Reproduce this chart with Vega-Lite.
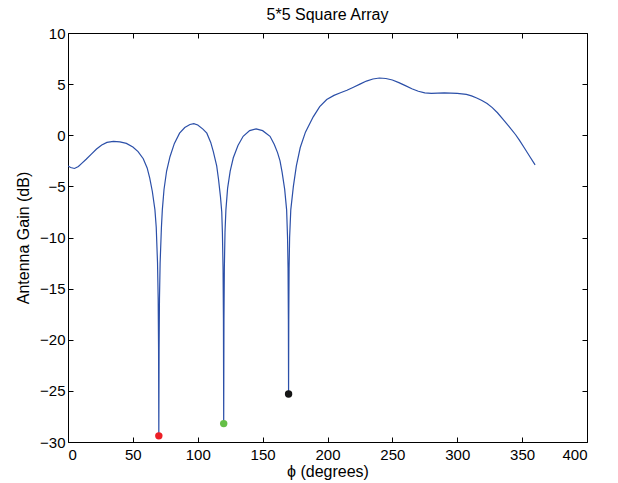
{
  "$schema": "https://vega.github.io/schema/vega-lite/v6.json",
  "width": 519,
  "height": 409,
  "autosize": {"type": "none"},
  "padding": {"left": 68, "top": 33, "right": 31, "bottom": 41},
  "background": "white",
  "config": {
    "font": "Liberation Sans",
    "view": {"stroke": "#000000", "strokeWidth": 1},
    "title": {"fontSize": 16, "fontWeight": "normal", "color": "#000000", "font": "Liberation Sans"},
    "axis": {
      "domain": false,
      "grid": false,
      "ticks": true,
      "tickSize": -5,
      "tickColor": "#000000",
      "tickWidth": 1,
      "labelFont": "Liberation Sans",
      "labelFontSize": 15,
      "labelColor": "#000000",
      "titleFont": "Liberation Sans",
      "titleFontSize": 16,
      "titleFontWeight": "normal",
      "titleColor": "#000000"
    }
  },
  "title": {"text": "5*5 Square Array", "offset": 3, "anchor": "middle", "frame": "group", "fontSize": 16},
  "datasets": {
    "curve": [
      {"phi": 0, "gain": -3.0}, {"phi": 2, "gain": -3.15}, {"phi": 5, "gain": -3.25}, {"phi": 8, "gain": -3.05},
      {"phi": 11, "gain": -2.7}, {"phi": 14, "gain": -2.35}, {"phi": 18, "gain": -1.85}, {"phi": 22, "gain": -1.35},
      {"phi": 26, "gain": -0.95}, {"phi": 30, "gain": -0.7}, {"phi": 35, "gain": -0.6}, {"phi": 40, "gain": -0.65},
      {"phi": 45, "gain": -0.8}, {"phi": 50, "gain": -1.15}, {"phi": 54, "gain": -1.6}, {"phi": 58, "gain": -2.3},
      {"phi": 61, "gain": -3.2}, {"phi": 63, "gain": -4.2}, {"phi": 65, "gain": -5.5}, {"phi": 67, "gain": -7.3},
      {"phi": 68, "gain": -9.0}, {"phi": 69, "gain": -12.5}, {"phi": 69.5, "gain": -16}, {"phi": 69.8, "gain": -21},
      {"phi": 70, "gain": -29.4},
      {"phi": 70.2, "gain": -21}, {"phi": 70.5, "gain": -16}, {"phi": 71, "gain": -12.5}, {"phi": 72, "gain": -9.0},
      {"phi": 72.7, "gain": -7.3}, {"phi": 74, "gain": -5.3}, {"phi": 76, "gain": -3.5}, {"phi": 78.6, "gain": -2.1},
      {"phi": 82, "gain": -0.8}, {"phi": 86, "gain": 0.2}, {"phi": 90, "gain": 0.75}, {"phi": 94, "gain": 1.05},
      {"phi": 97, "gain": 1.13}, {"phi": 100, "gain": 1.0}, {"phi": 104, "gain": 0.6}, {"phi": 107, "gain": 0.2},
      {"phi": 110, "gain": -0.7}, {"phi": 112, "gain": -1.6}, {"phi": 114.6, "gain": -3.0}, {"phi": 116, "gain": -4.3},
      {"phi": 117.5, "gain": -6.0}, {"phi": 118.5, "gain": -7.5}, {"phi": 119, "gain": -9.5}, {"phi": 119.5, "gain": -13},
      {"phi": 119.8, "gain": -18}, {"phi": 120, "gain": -28.2}, {"phi": 120.2, "gain": -18}, {"phi": 120.5, "gain": -13},
      {"phi": 121, "gain": -9.5}, {"phi": 121.7, "gain": -7.3}, {"phi": 123, "gain": -5.2}, {"phi": 125, "gain": -3.5},
      {"phi": 127.4, "gain": -2.2}, {"phi": 131, "gain": -1.0}, {"phi": 135, "gain": -0.1}, {"phi": 140, "gain": 0.45},
      {"phi": 145, "gain": 0.62}, {"phi": 150, "gain": 0.45}, {"phi": 155.7, "gain": -0.1}, {"phi": 159, "gain": -0.9},
      {"phi": 161.5, "gain": -1.7}, {"phi": 163.4, "gain": -2.5}, {"phi": 165, "gain": -3.6}, {"phi": 167, "gain": -5.3},
      {"phi": 168.5, "gain": -7.3}, {"phi": 169.2, "gain": -10}, {"phi": 169.6, "gain": -13}, {"phi": 169.85, "gain": -18},
      {"phi": 170, "gain": -25.3}, {"phi": 170.15, "gain": -18}, {"phi": 170.4, "gain": -13}, {"phi": 170.8, "gain": -10},
      {"phi": 171.7, "gain": -7.3}, {"phi": 173.7, "gain": -5.0}, {"phi": 176, "gain": -3.0}, {"phi": 179, "gain": -1.2},
      {"phi": 183, "gain": 0.3}, {"phi": 189, "gain": 1.8}, {"phi": 194, "gain": 2.8}, {"phi": 199.4, "gain": 3.5},
      {"phi": 205, "gain": 3.9}, {"phi": 210, "gain": 4.15}, {"phi": 215, "gain": 4.4}, {"phi": 220, "gain": 4.7},
      {"phi": 225, "gain": 5.0}, {"phi": 230, "gain": 5.3}, {"phi": 235, "gain": 5.5}, {"phi": 240, "gain": 5.6},
      {"phi": 245, "gain": 5.55}, {"phi": 250, "gain": 5.4}, {"phi": 255, "gain": 5.15}, {"phi": 260, "gain": 4.85},
      {"phi": 265, "gain": 4.55}, {"phi": 270, "gain": 4.3}, {"phi": 275, "gain": 4.15}, {"phi": 280, "gain": 4.1},
      {"phi": 290, "gain": 4.15}, {"phi": 300, "gain": 4.1}, {"phi": 307, "gain": 4.0}, {"phi": 311, "gain": 3.85},
      {"phi": 315, "gain": 3.65}, {"phi": 319, "gain": 3.4}, {"phi": 323, "gain": 3.1}, {"phi": 327, "gain": 2.7},
      {"phi": 331, "gain": 2.2}, {"phi": 335, "gain": 1.6}, {"phi": 340, "gain": 0.85}, {"phi": 345, "gain": 0.05},
      {"phi": 348, "gain": -0.5}, {"phi": 352, "gain": -1.3}, {"phi": 356, "gain": -2.1}, {"phi": 360, "gain": -2.9}
    ],
    "nulls": [
      {"phi": 70, "gain": -29.4, "c": "red"},
      {"phi": 120, "gain": -28.2, "c": "green"},
      {"phi": 170, "gain": -25.3, "c": "black"}
    ]
  },
  "layer": [
    {
      "data": {"name": "curve"},
      "mark": {"type": "line", "color": "#2b4fa8", "strokeWidth": 1.2, "clip": true},
      "encoding": {
        "x": {"field": "phi", "type": "quantitative", "scale": {"domain": [0, 400], "nice": false},
          "axis": {"orient": "bottom", "title": "ϕ (degrees)", "values": [0, 50, 100, 150, 200, 250, 300, 350, 400], "labelPadding": 10, "titlePadding": 1}},
        "y": {"field": "gain", "type": "quantitative", "scale": {"domain": [-30, 10], "nice": false, "zero": false},
          "axis": {"orient": "left", "title": "Antenna Gain (dB)", "values": [-30, -25, -20, -15, -10, -5, 0, 5, 10], "labelPadding": 8, "titlePadding": 8}}
      }
    },
    {
      "data": {"name": "nulls"},
      "mark": {"type": "circle", "size": 55, "opacity": 1},
      "encoding": {
        "x": {"field": "phi", "type": "quantitative",
          "axis": {"orient": "top", "title": null, "labels": false, "values": [0, 50, 100, 150, 200, 250, 300, 350, 400]}},
        "y": {"field": "gain", "type": "quantitative",
          "axis": {"orient": "right", "title": null, "labels": false, "values": [-30, -25, -20, -15, -10, -5, 0, 5, 10]}},
        "color": {"field": "c", "type": "nominal", "legend": null,
          "scale": {"domain": ["red", "green", "black"], "range": ["#ec1f26", "#65bf47", "#151515"]}}
      }
    }
  ]
}
